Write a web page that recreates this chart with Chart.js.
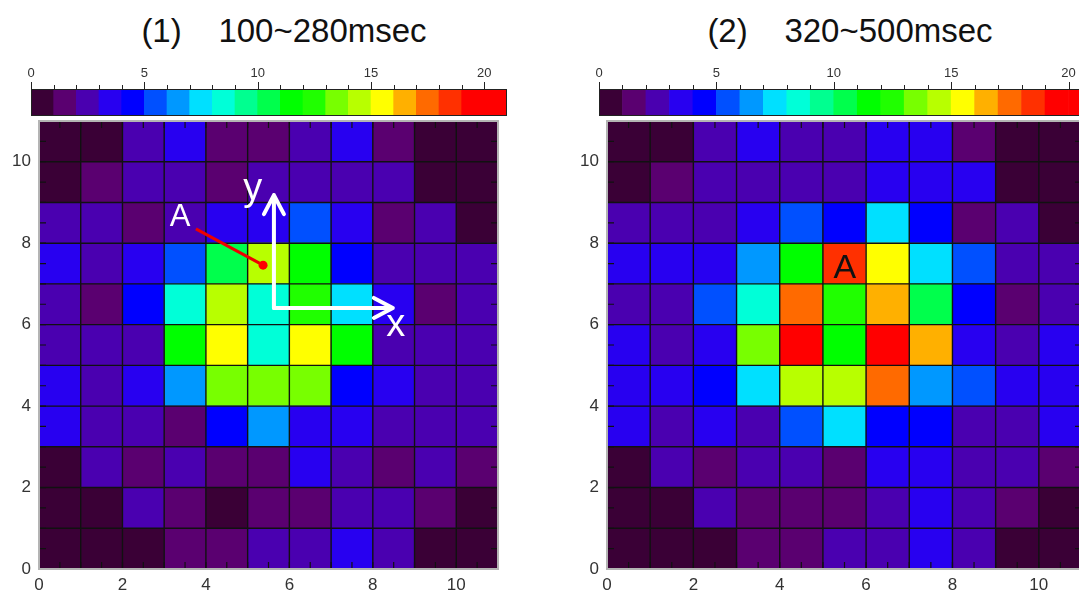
<!DOCTYPE html>
<html>
<head>
<meta charset="utf-8">
<script src="https://cdn.jsdelivr.net/npm/chart.js@4.4.0/dist/chart.umd.min.js"></script>
<style>
  html, body { margin: 0; padding: 0; background: #fff; }
  body { width: 1079px; height: 592px; overflow: hidden; position: relative; font-family: "Liberation Sans", Arial, sans-serif; }
  canvas { position: absolute; }
  .title { position: absolute; top: 14px; font-size: 33px; line-height: 33px; color: #111; white-space: pre; transform: translateX(-50%); }
</style>
</head>
<body>
<div class="title" id="title1" style="left:284px"></div>
<div class="title" id="title2" style="left:850px"></div>
<canvas id="cb1" width="540" height="57" style="left:0;top:60px"></canvas>
<canvas id="hm1" width="540" height="482" style="left:0;top:110px"></canvas>
<canvas id="cb2" width="564" height="57" style="left:560px;top:60px"></canvas>
<canvas id="hm2" width="564" height="482" style="left:560px;top:110px"></canvas>

<script>
// --- data ---
const titles = ['(1)    100~280msec', '(2)    320~500msec'];

// colour scale: one level per unit, 0..20 (bar runs 0..21)
const cbLevels = [0, 1, 2, 3, 4, 5, 6, 7, 8, 9, 10, 11, 12, 13, 14, 15, 16, 17, 18, 19, 20];
const cbTickValues = [0, 5, 10, 15, 20];
const heatTickValues = [0, 2, 4, 6, 8, 10];

// levels, rows listed top (y=10) to bottom (y=0)
const grid1 = [
  [0, 0, 2, 3, 1, 1, 2, 3, 1, 0, 0],
  [0, 1, 2, 2, 1, 2, 2, 2, 2, 0, 0],
  [2, 2, 1, 2, 3, 3, 5, 3, 1, 2, 0],
  [3, 2, 3, 5, 10, 14, 11, 4, 2, 2, 2],
  [2, 1, 4, 8, 14, 8, 12, 7, 3, 1, 2],
  [2, 2, 2, 11, 15, 8, 15, 11, 2, 2, 2],
  [3, 2, 3, 6, 13, 13, 13, 4, 3, 2, 2],
  [3, 2, 2, 1, 4, 6, 3, 3, 2, 2, 2],
  [0, 2, 1, 2, 1, 1, 3, 2, 1, 2, 1],
  [0, 0, 2, 1, 0, 1, 1, 2, 2, 1, 0],
  [0, 0, 0, 1, 1, 2, 2, 3, 2, 0, 0]
];
const grid2 = [
  [0, 0, 2, 3, 2, 2, 3, 3, 1, 0, 0],
  [0, 1, 2, 2, 2, 2, 3, 3, 3, 0, 0],
  [2, 2, 2, 3, 5, 4, 7, 4, 1, 2, 0],
  [3, 3, 3, 6, 11, 18, 15, 7, 5, 2, 2],
  [2, 2, 5, 8, 17, 12, 16, 10, 4, 1, 2],
  [3, 2, 3, 13, 19, 11, 19, 16, 3, 2, 3],
  [3, 3, 4, 7, 14, 14, 17, 6, 5, 3, 3],
  [3, 2, 3, 2, 5, 7, 4, 4, 2, 2, 3],
  [0, 2, 1, 2, 2, 1, 3, 3, 2, 2, 1],
  [0, 0, 2, 1, 1, 1, 2, 3, 2, 1, 0],
  [0, 0, 0, 1, 1, 2, 2, 3, 2, 0, 0]
];

// annotation anchors, in data units
const labelA1 = [3.38, 8.42];
const leaderStart = [3.76, 8.35];
const pointA1 = [5.37, 7.46];
const axisOrigin = [5.63, 6.41];
const yArrowTip = [5.63, 9.18];
const xArrowTip = [8.48, 6.41];
const labelY = [5.12, 9.06];
const labelX = [8.55, 5.72];
const labelA2 = [5.51, 7.14];

// --- styles ---
const palette = [
  '#3a0036', '#5a0070', '#4a00b0', '#2800f0', '#0000ff', '#0050ff', '#0098ff',
  '#00e0ff', '#00ffd8', '#00ff90', '#00ff4c', '#00ff00', '#20ff00', '#78ff00',
  '#b8ff00', '#ffff00', '#ffb000', '#ff6a00', '#ff3000', '#ff0000', '#ff0000'
];
const FONT = '"Liberation Sans", Arial, sans-serif';
Chart.defaults.font.family = FONT;

document.getElementById('title1').textContent = titles[0];
document.getElementById('title2').textContent = titles[1];

// stop the scales from asking for extra room around the plot
function noScalePadding(s) {
  s.paddingTop = 0; s.paddingBottom = 0; s.paddingLeft = 0; s.paddingRight = 0;
}

// frame + tick marks on top of the colour bar
const cbFrame = {
  id: 'cbFrame',
  afterDatasetsDraw(chart) {
    const { ctx, chartArea: a, scales: { x } } = chart;
    ctx.save();
    ctx.strokeStyle = '#222';
    ctx.lineWidth = 1;
    ctx.strokeRect(a.left + 0.5, a.top + 0.5, a.right - a.left - 1, a.bottom - a.top - 1);
    ctx.beginPath();
    cbLevels.forEach(v => {
      const px = Math.round(x.getPixelForValue(v)) + 0.5;
      const len = v % 5 === 0 ? 7 : 4;
      ctx.moveTo(px, a.top);
      ctx.lineTo(px, a.top - len);
    });
    ctx.stroke();
    ctx.restore();
  }
};

// cell borders, inward half-step ticks and the grey frame
const heatFrame = {
  id: 'heatFrame',
  afterDatasetsDraw(chart) {
    const { ctx, chartArea: a, scales: { x, y } } = chart;
    const n = x.max;
    ctx.save();
    ctx.strokeStyle = '#111';
    ctx.lineWidth = 1.4;
    ctx.beginPath();
    for (let v = 1; v < n; v++) {
      const px = x.getPixelForValue(v), py = y.getPixelForValue(v);
      ctx.moveTo(px, a.top); ctx.lineTo(px, a.bottom);
      ctx.moveTo(a.left, py); ctx.lineTo(a.right, py);
    }
    ctx.stroke();
    ctx.lineWidth = 1.2;
    ctx.beginPath();
    for (let v = 0.5; v < n; v += 0.5) {
      const px = x.getPixelForValue(v), py = y.getPixelForValue(v);
      ctx.moveTo(px, a.bottom); ctx.lineTo(px, a.bottom - 7);
      ctx.moveTo(px, a.top); ctx.lineTo(px, a.top + 7);
      ctx.moveTo(a.left, py); ctx.lineTo(a.left + 7, py);
      ctx.moveTo(a.right, py); ctx.lineTo(a.right - 7, py);
    }
    ctx.stroke();
    ctx.strokeStyle = '#b4b4b4';
    ctx.lineWidth = 2;
    ctx.strokeRect(a.left, a.top, a.right - a.left, a.bottom - a.top);
    ctx.restore();
  }
};

function arrow(ctx, x0, y0, x1, y1) {
  const ang = Math.atan2(y1 - y0, x1 - x0);
  ctx.beginPath();
  ctx.moveTo(x0, y0);
  ctx.lineTo(x1, y1);
  ctx.moveTo(x1 - 19 * Math.cos(ang) + 10 * Math.sin(ang), y1 - 19 * Math.sin(ang) - 10 * Math.cos(ang));
  ctx.lineTo(x1, y1);
  ctx.lineTo(x1 - 19 * Math.cos(ang) - 10 * Math.sin(ang), y1 - 19 * Math.sin(ang) + 10 * Math.cos(ang));
  ctx.stroke();
}

const annoLeft = {
  id: 'annoLeft',
  afterDraw(chart) {
    const { ctx, scales: { x, y } } = chart;
    const P = p => [x.getPixelForValue(p[0]), y.getPixelForValue(p[1])];
    ctx.save();
    // red leader line to point A
    const s = P(leaderStart), e = P(pointA1);
    ctx.strokeStyle = '#ee0000';
    ctx.lineWidth = 3;
    ctx.beginPath(); ctx.moveTo(s[0], s[1]); ctx.lineTo(e[0], e[1]); ctx.stroke();
    ctx.fillStyle = '#ff0000';
    ctx.beginPath(); ctx.arc(e[0], e[1], 4.5, 0, Math.PI * 2); ctx.fill();
    // white axes arrows
    const o = P(axisOrigin), ty = P(yArrowTip), tx = P(xArrowTip);
    ctx.strokeStyle = '#fff';
    ctx.lineWidth = 4;
    ctx.lineCap = 'round';
    ctx.lineJoin = 'round';
    arrow(ctx, o[0], o[1], ty[0], ty[1]);
    arrow(ctx, o[0], o[1], tx[0], tx[1]);
    ctx.fillStyle = '#fff';
    ctx.textAlign = 'center';
    ctx.textBaseline = 'alphabetic';
    ctx.font = '31px ' + FONT;
    const pa = P(labelA1);
    ctx.fillText('A', pa[0], pa[1]);
    ctx.font = '38px ' + FONT;
    const py = P(labelY), px = P(labelX);
    ctx.fillText('y', py[0], py[1]);
    ctx.fillText('x', px[0], px[1]);
    ctx.restore();
  }
};

const annoRight = {
  id: 'annoRight',
  afterDraw(chart) {
    const { ctx, scales: { x, y } } = chart;
    ctx.save();
    ctx.fillStyle = '#111';
    ctx.textAlign = 'center';
    ctx.textBaseline = 'alphabetic';
    ctx.font = '34px ' + FONT;
    ctx.fillText('A', x.getPixelForValue(labelA2[0]), y.getPixelForValue(labelA2[1]));
    ctx.restore();
  }
};

const baseOptions = {
  responsive: false,
  animation: false,
  devicePixelRatio: 1,
  plugins: { legend: { display: false }, tooltip: { enabled: false } }
};

function makeColorbar(id, padLeft, padRight) {
  new Chart(document.getElementById(id), {
    type: 'bar',
    data: {
      datasets: [{
        data: cbLevels.map(v => ({ x: v + 0.5, y: [0, 1] })),
        backgroundColor: cbLevels.map(v => palette[v]),
        borderWidth: 0,
        barPercentage: 1,
        categoryPercentage: 1
      }]
    },
    options: {
      ...baseOptions,
      layout: { padding: { left: padLeft, right: padRight, top: 0, bottom: 1 } },
      scales: {
        x: {
          type: 'linear', position: 'top', min: 0, max: cbLevels.length, offset: false,
          grid: { display: false, drawTicks: false }, border: { display: false },
          afterBuildTicks: s => { s.ticks = cbTickValues.map(v => ({ value: v })); },
          afterFit: s => { s.height = 29; noScalePadding(s); },
          ticks: { font: { size: 13 }, color: '#333', padding: 8, maxRotation: 0, autoSkip: false }
        },
        y: { display: false, min: 0, max: 1 }
      }
    },
    plugins: [cbFrame]
  });
}

function makeHeatmap(id, grid, yAxisWidth, padRight, anno) {
  const n = grid.length;
  const cells = [];
  grid.forEach((row, r) => row.forEach((v, c) => {
    cells.push({ x: c + 0.5, y: [n - 1 - r, n - r], v: v });
  }));
  new Chart(document.getElementById(id), {
    type: 'bar',
    data: {
      datasets: [{
        data: cells,
        backgroundColor: cells.map(d => palette[d.v]),
        borderWidth: 0,
        barPercentage: 1,
        categoryPercentage: 1
      }]
    },
    options: {
      ...baseOptions,
      layout: { padding: { left: 0, right: padRight, top: 11, bottom: 0 } },
      scales: {
        x: {
          type: 'linear', min: 0, max: n, offset: false,
          grid: { display: false, drawTicks: false }, border: { display: false },
          afterBuildTicks: s => { s.ticks = heatTickValues.map(v => ({ value: v })); },
          afterFit: s => { s.height = 23; noScalePadding(s); },
          ticks: { font: { size: 17 }, color: '#333', padding: 6, maxRotation: 0, autoSkip: false }
        },
        y: {
          type: 'linear', min: 0, max: n,
          grid: { display: false, drawTicks: false }, border: { display: false },
          afterBuildTicks: s => { s.ticks = heatTickValues.map(v => ({ value: v })); },
          afterFit: s => { s.width = yAxisWidth; noScalePadding(s); },
          ticks: { font: { size: 17 }, color: '#333', padding: 8, autoSkip: false }
        }
      }
    },
    plugins: [heatFrame, anno]
  });
}

makeColorbar('cb1', 31, 33);
makeHeatmap('hm1', grid1, 39, 42, annoLeft);
makeColorbar('cb2', 39, 32);
makeHeatmap('hm2', grid2, 47, 42, annoRight);
</script>
</body>
</html>
